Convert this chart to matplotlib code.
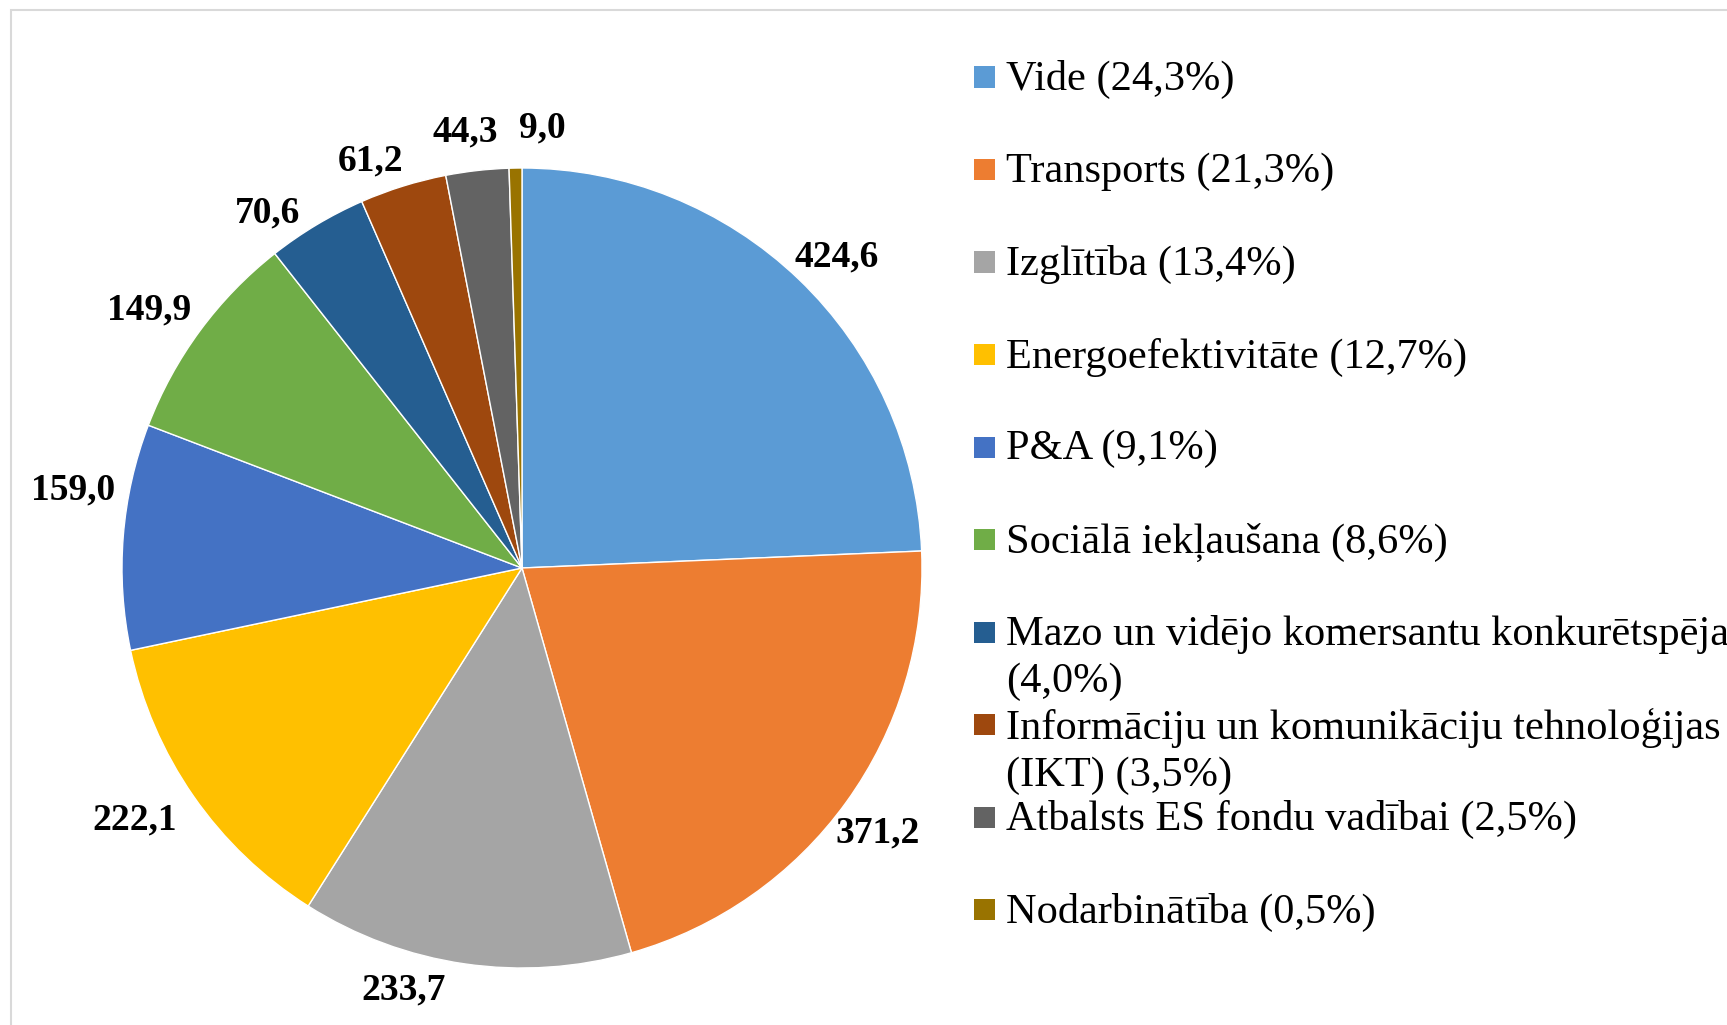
import numpy as np
import matplotlib
matplotlib.use("Agg")
import matplotlib.pyplot as plt
from matplotlib.patches import Rectangle

# ES fondu sadalījums pa jomām (milj. EUR)
categories = ["Vide", "Transports", "Izglītība", "Energoefektivitāte", "P&A",
              "Sociālā iekļaušana", "Mazo un vidējo komersantu konkurētspēja",
              "Informāciju un komunikāciju tehnoloģijas (IKT)",
              "Atbalsts ES fondu vadībai", "Nodarbinātība"]
legend_labels = ["Vide (24,3%)", "Transports (21,3%)", "Izglītība (13,4%)",
                 "Energoefektivitāte (12,7%)", "P&A (9,1%)",
                 "Sociālā iekļaušana (8,6%)",
                 "Mazo un vidējo komersantu konkurētspēja\n(4,0%)",
                 "Informāciju un komunikāciju tehnoloģijas\n(IKT) (3,5%)",
                 "Atbalsts ES fondu vadībai (2,5%)", "Nodarbinātība (0,5%)"]
values = [424.6, 371.2, 233.7, 222.1, 159.0, 149.9, 70.6, 61.2, 44.3, 9.0]
value_labels = ["424,6", "371,2", "233,7", "222,1", "159,0", "149,9",
                "70,6", "61,2", "44,3", "9,0"]
colors = ["#5B9BD5", "#ED7D31", "#A5A5A5", "#FFC000", "#4472C4",
          "#70AD47", "#255E91", "#9E480E", "#636363", "#997300"]

# label placement tweaks (radius, angle nudge in degrees), like Excel's best fit
label_r = [1.113, 1.103, 1.085, 1.15, 1.14, 1.14, 1.10, 1.095, 1.11, 1.11]
label_dang = [-1.2, -0.5, -7.6, -2.2, -5.8, 1.3, 4.4, 2.9, 0.9, -3.6]

W, H = 1727, 1025
fig = plt.figure(figsize=(W / 100, H / 100), dpi=100)
plt.rcParams['font.family'] = ['Liberation Serif', 'DejaVu Serif']


def fx(x):
    return x / W


def fy(y):
    return 1 - y / H


# light frame (only top and left visible)
fig.add_artist(Rectangle((fx(11), fy(H + 50)), 2, fy(10) - fy(H + 50),
                         transform=fig.transFigure, fill=False,
                         edgecolor="#D9D9D9", linewidth=1.5))

# pie
cx, cy, half = 522, 568, 450
ax = fig.add_axes([fx(cx - half), fy(cy + half), 2 * half / W, 2 * half / H])
wedges, _ = ax.pie(values, colors=colors, startangle=90, counterclock=False,
                   wedgeprops=dict(edgecolor="white", linewidth=1.0))
lim = 1.125
ax.set_xlim(-lim, lim)
ax.set_ylim(-lim, lim)

for w, lab, r, da in zip(wedges, value_labels, label_r, label_dang):
    ang = np.deg2rad((w.theta1 + w.theta2) / 2 + da)
    ax.text(r * np.cos(ang), r * np.sin(ang), lab, ha="center",
            va="center_baseline", fontsize=27, fontweight="bold",
            color="black")

# legend drawn by hand
y0, step = 77, 92.5
sq = 21
fs = 30.5
for i, (lab, c) in enumerate(zip(legend_labels, colors)):
    yc = y0 + i * step
    fig.add_artist(Rectangle((fx(974), fy(yc + sq / 2)), sq / W, sq / H,
                             transform=fig.transFigure, facecolor=c,
                             edgecolor="none"))
    fig.text(fx(1006), fy(yc - 17), lab, ha="left", va="top",
             fontsize=fs, color="black", linespacing=1.3)

fig.savefig("out.png", dpi=100)
